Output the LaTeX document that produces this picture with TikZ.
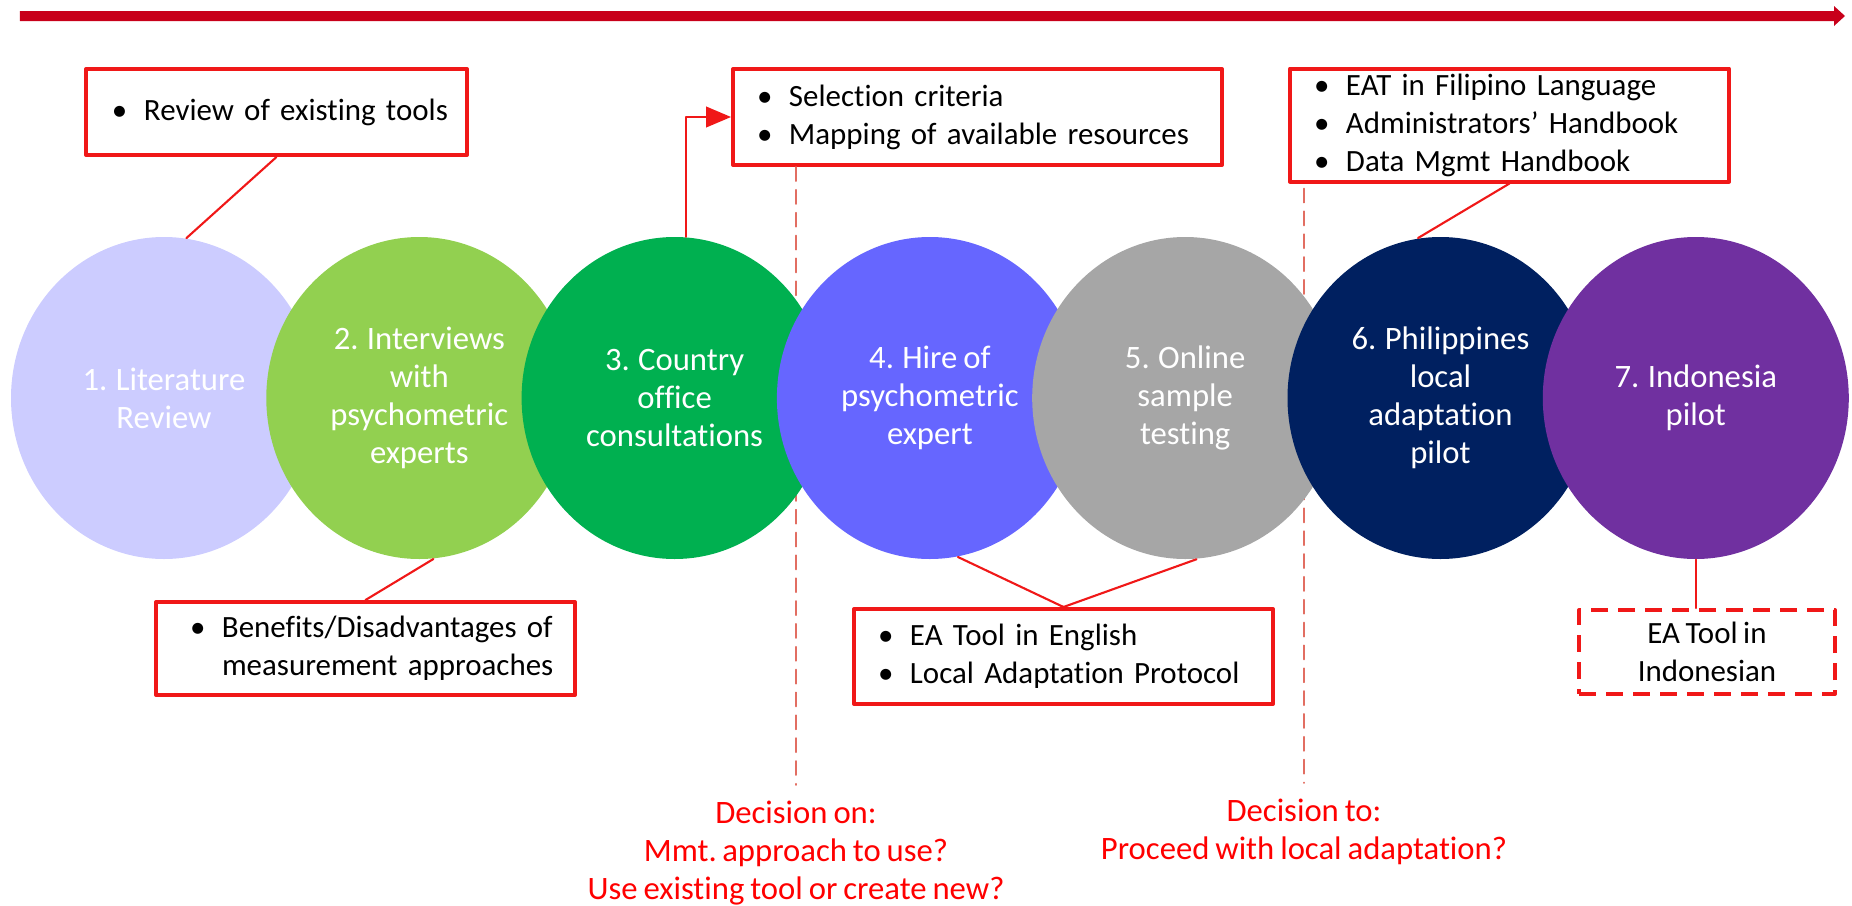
\documentclass[tikz,border=0pt]{standalone}
\usepackage{fontspec}
\setmainfont{Carlito}[Ligatures=NoCommon,WordSpace=0.8]
\usepackage{tikz}
\usetikzlibrary{arrows,shapes.geometric}
\definecolor{barred}{RGB}{200,0,26}
\definecolor{boxred}{RGB}{240,24,24}
\definecolor{dashred}{RGB}{226,110,98}
\definecolor{litcol}{RGB}{204,204,255}
\definecolor{intcol}{RGB}{146,208,80}
\definecolor{concol}{RGB}{0,176,80}
\definecolor{hircol}{RGB}{102,102,255}
\definecolor{onlcol}{RGB}{166,166,166}
\definecolor{phlcol}{RGB}{0,32,96}
\definecolor{indcol}{RGB}{112,48,160}
\newcommand{\itm}[1]{\mbox{\makebox[0.32cm][l]{\textbullet}#1}}

\begin{document}
\begin{tikzpicture}[line cap=round,line join=round,>=triangle 45,x=1.0cm,y=1.0cm,
  every node/.style={font=\fontsize{9.3}{10.8}\selectfont},
  stage/.style={ellipse,minimum width=3.06cm,minimum height=3.22cm,inner sep=0pt,text=white,align=center},
  outbox/.style={draw=boxred,line width=0.04cm,fill=white,inner ysep=0pt,inner xsep=0.24cm,align=left,font=\fontsize{8.8}{10.8}\selectfont},
  link/.style={draw=boxred,line width=0.6pt},
  gate/.style={draw=dashred,line width=0.5pt,dash pattern=on 4pt off 2.5pt},
  verdict/.style={text=red,align=center,inner sep=0pt,anchor=north}]
\useasboundingbox (0,0) rectangle (18.52,9.05);
% time line
\fill[barred] (0.20,8.94) -- (18.34,8.94) -- (18.34,8.99) -- (18.45,8.89) -- (18.34,8.79) -- (18.34,8.84) -- (0.20,8.84) -- cycle;
% outputs
\node[outbox,minimum height=0.86cm,text width=3.29cm,inner xsep=0.26cm] (tools) at (2.765,7.93) {\itm{Review of existing tools}};
\node[outbox,minimum height=0.96cm,text width=4.41cm] (criteria) at (9.775,7.88) {\itm{Selection criteria}\\\itm{Mapping of available resources}};
\node[outbox,minimum height=1.13cm,text width=3.91cm] (handbooks) at (15.095,7.80) {\itm{EAT in Filipino Language}\\\itm{Administrators’ Handbook}\\\itm{Data Mgmt Handbook}};
\node[outbox,minimum height=0.93cm,text width=3.51cm,inner xsep=0.34cm] (benefits) at (3.655,2.565) {\itm{Benefits/Disadvantages of}\\\mbox{\hspace*{0.32cm}measurement approaches}};
\node[outbox,minimum height=0.95cm,text width=3.71cm] (english) at (10.635,2.485) {\itm{EA Tool in English}\\\itm{Local Adaptation Protocol}};
\node[outbox,dash pattern=on 0.17cm off 0.1cm,line cap=butt,minimum width=2.56cm,minimum height=0.84cm,align=center] (indonesian) at (17.07,2.53) {EA Tool in\\Indonesian};
% decisions
\node[verdict] (decide1) at (7.96,1.05) {Decision on:\\Mmt.\,approach to use?\\Use existing tool or create new?};
\node[verdict] (decide2) at (13.04,1.07) {Decision to:\\Proceed with local adaptation?};
\draw[gate,shorten >=0.15cm] (criteria.south -| decide1.north) -- (decide1.north);
\draw[gate,shorten <=0.05cm,shorten >=0.15cm] (handbooks.south -| decide2.north) -- (decide2.north);
% stages
\foreach \n/\col/\txt in {1/litcol/{1. Literature\\Review},2/intcol/{2. Interviews\\with\\psychometric\\experts},3/concol/{3. Country\\office\\consultations},4/hircol/{4. Hire of\\psychometric\\expert},5/onlcol/{5. Online\\sample\\testing},6/phlcol/{6. Philippines\\local\\adaptation\\pilot},7/indcol/{7. Indonesia\\pilot}}
\node[stage,fill=\col] (e\n) at ({1.64+2.553*(\n-1)},5.07) {\txt};
% links
\draw[link] (tools.south) -- (e1.82);
\draw[link,->] (e3.86) |- (criteria.west);
\draw[link] (handbooks.south) -- (e6.98);
\draw[link] (e2.-85) -- (benefits.north);
\draw[link] (e4.-80) -- (english.north);
\draw[link] (e5.-86) -- (english.north);
\draw[link] (e7.south) -- (e7.south |- indonesian.north);
\end{tikzpicture}
\end{document}
